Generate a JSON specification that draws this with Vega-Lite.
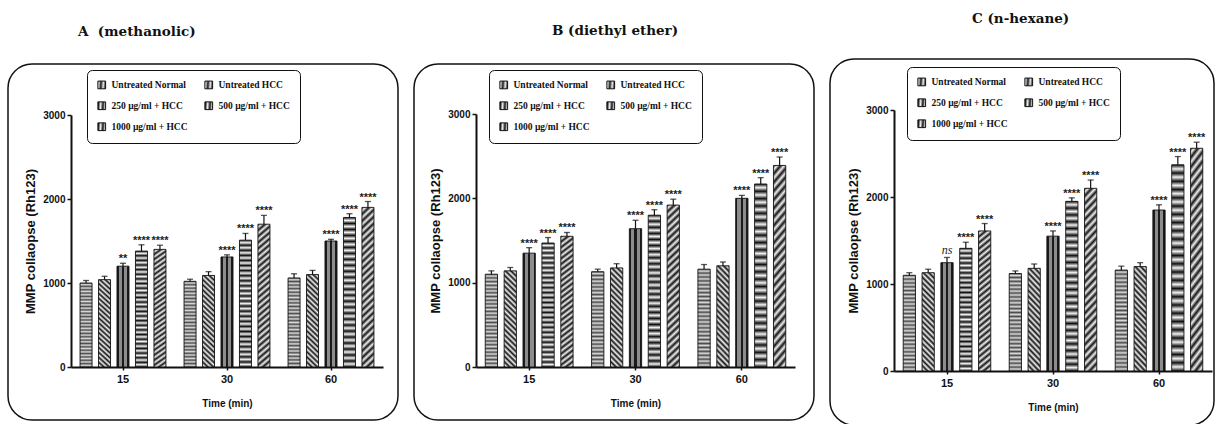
{
"$schema": "https://vega.github.io/schema/vega-lite/v6.json",
"padding": {"left": 7, "top": 10, "right": 0, "bottom": 0},
"spacing": 16,
"center": true,
"bounds": "flush",
"resolve": {"scale": {"stroke": "independent", "xOffset": "independent"}, "legend": {"stroke": "independent"}},
"params": [
{"name": "gUN", "value": {"gradient": "linear", "x1": 0, "y1": 0, "x2": 0, "y2": 1, "stops": [
{"offset":0,"color":"#4d4d4d"},{"offset":0.02,"color":"#dadada"},{"offset":0.04,"color":"#4d4d4d"},{"offset":0.06,"color":"#dadada"},{"offset":0.08,"color":"#4d4d4d"},{"offset":0.1,"color":"#dadada"},{"offset":0.12,"color":"#4d4d4d"},{"offset":0.14,"color":"#dadada"},{"offset":0.16,"color":"#4d4d4d"},{"offset":0.18,"color":"#dadada"},{"offset":0.2,"color":"#4d4d4d"},{"offset":0.22,"color":"#dadada"},{"offset":0.24,"color":"#4d4d4d"},{"offset":0.26,"color":"#dadada"},{"offset":0.28,"color":"#4d4d4d"},{"offset":0.3,"color":"#dadada"},{"offset":0.32,"color":"#4d4d4d"},{"offset":0.34,"color":"#dadada"},{"offset":0.36,"color":"#4d4d4d"},{"offset":0.38,"color":"#dadada"},{"offset":0.4,"color":"#4d4d4d"},{"offset":0.42,"color":"#dadada"},{"offset":0.44,"color":"#4d4d4d"},{"offset":0.46,"color":"#dadada"},{"offset":0.48,"color":"#4d4d4d"},{"offset":0.5,"color":"#dadada"},{"offset":0.52,"color":"#4d4d4d"},{"offset":0.54,"color":"#dadada"},{"offset":0.56,"color":"#4d4d4d"},{"offset":0.58,"color":"#dadada"},{"offset":0.6,"color":"#4d4d4d"},{"offset":0.62,"color":"#dadada"},{"offset":0.64,"color":"#4d4d4d"},{"offset":0.66,"color":"#dadada"},{"offset":0.68,"color":"#4d4d4d"},{"offset":0.7,"color":"#dadada"},{"offset":0.72,"color":"#4d4d4d"},{"offset":0.74,"color":"#dadada"},{"offset":0.76,"color":"#4d4d4d"},{"offset":0.78,"color":"#dadada"},{"offset":0.8,"color":"#4d4d4d"},{"offset":0.82,"color":"#dadada"},{"offset":0.84,"color":"#4d4d4d"},{"offset":0.86,"color":"#dadada"},{"offset":0.88,"color":"#4d4d4d"},{"offset":0.9,"color":"#dadada"},{"offset":0.92,"color":"#4d4d4d"},{"offset":0.94,"color":"#dadada"},{"offset":0.96,"color":"#4d4d4d"},{"offset":0.98,"color":"#dadada"},{"offset":1,"color":"#4d4d4d"}]}},
{"name": "gUH", "value": {"gradient": "linear", "x1": 0, "y1": 1, "x2": 0.138, "y2": -0.108, "stops": [
{"offset":0,"color":"#151515"},{"offset":0.025,"color":"#f0f0f0"},{"offset":0.05,"color":"#151515"},{"offset":0.075,"color":"#f0f0f0"},{"offset":0.1,"color":"#151515"},{"offset":0.125,"color":"#f0f0f0"},{"offset":0.15,"color":"#151515"},{"offset":0.175,"color":"#f0f0f0"},{"offset":0.2,"color":"#151515"},{"offset":0.225,"color":"#f0f0f0"},{"offset":0.25,"color":"#151515"},{"offset":0.275,"color":"#f0f0f0"},{"offset":0.3,"color":"#151515"},{"offset":0.325,"color":"#f0f0f0"},{"offset":0.35,"color":"#151515"},{"offset":0.375,"color":"#f0f0f0"},{"offset":0.4,"color":"#151515"},{"offset":0.425,"color":"#f0f0f0"},{"offset":0.45,"color":"#151515"},{"offset":0.475,"color":"#f0f0f0"},{"offset":0.5,"color":"#151515"},{"offset":0.525,"color":"#f0f0f0"},{"offset":0.55,"color":"#151515"},{"offset":0.575,"color":"#f0f0f0"},{"offset":0.6,"color":"#151515"},{"offset":0.625,"color":"#f0f0f0"},{"offset":0.65,"color":"#151515"},{"offset":0.675,"color":"#f0f0f0"},{"offset":0.7,"color":"#151515"},{"offset":0.725,"color":"#f0f0f0"},{"offset":0.75,"color":"#151515"},{"offset":0.775,"color":"#f0f0f0"},{"offset":0.8,"color":"#151515"},{"offset":0.825,"color":"#f0f0f0"},{"offset":0.85,"color":"#151515"},{"offset":0.875,"color":"#f0f0f0"},{"offset":0.9,"color":"#151515"},{"offset":0.925,"color":"#f0f0f0"},{"offset":0.95,"color":"#151515"},{"offset":0.975,"color":"#f0f0f0"},{"offset":1,"color":"#151515"}]}},
{"name": "g250", "value": {"gradient": "linear", "x1": 0, "y1": 0, "x2": 1, "y2": 0, "stops": [
{"offset":0,"color":"#1a1a1a"},{"offset":0.14,"color":"#1a1a1a"},{"offset":0.14,"color":"#8c8c8c"},{"offset":0.4,"color":"#8c8c8c"},{"offset":0.4,"color":"#1a1a1a"},{"offset":0.6,"color":"#1a1a1a"},{"offset":0.6,"color":"#8c8c8c"},{"offset":0.86,"color":"#8c8c8c"},{"offset":0.86,"color":"#1a1a1a"},{"offset":1,"color":"#1a1a1a"}]}},
{"name": "g500", "value": {"gradient": "linear", "x1": 0, "y1": 0, "x2": 0, "y2": 1, "stops": [
{"offset":0,"color":"#111111"},{"offset":0.02,"color":"#f2f2f2"},{"offset":0.04,"color":"#111111"},{"offset":0.06,"color":"#f2f2f2"},{"offset":0.08,"color":"#111111"},{"offset":0.1,"color":"#f2f2f2"},{"offset":0.12,"color":"#111111"},{"offset":0.14,"color":"#f2f2f2"},{"offset":0.16,"color":"#111111"},{"offset":0.18,"color":"#f2f2f2"},{"offset":0.2,"color":"#111111"},{"offset":0.22,"color":"#f2f2f2"},{"offset":0.24,"color":"#111111"},{"offset":0.26,"color":"#f2f2f2"},{"offset":0.28,"color":"#111111"},{"offset":0.3,"color":"#f2f2f2"},{"offset":0.32,"color":"#111111"},{"offset":0.34,"color":"#f2f2f2"},{"offset":0.36,"color":"#111111"},{"offset":0.38,"color":"#f2f2f2"},{"offset":0.4,"color":"#111111"},{"offset":0.42,"color":"#f2f2f2"},{"offset":0.44,"color":"#111111"},{"offset":0.46,"color":"#f2f2f2"},{"offset":0.48,"color":"#111111"},{"offset":0.5,"color":"#f2f2f2"},{"offset":0.52,"color":"#111111"},{"offset":0.54,"color":"#f2f2f2"},{"offset":0.56,"color":"#111111"},{"offset":0.58,"color":"#f2f2f2"},{"offset":0.6,"color":"#111111"},{"offset":0.62,"color":"#f2f2f2"},{"offset":0.64,"color":"#111111"},{"offset":0.66,"color":"#f2f2f2"},{"offset":0.68,"color":"#111111"},{"offset":0.7,"color":"#f2f2f2"},{"offset":0.72,"color":"#111111"},{"offset":0.74,"color":"#f2f2f2"},{"offset":0.76,"color":"#111111"},{"offset":0.78,"color":"#f2f2f2"},{"offset":0.8,"color":"#111111"},{"offset":0.82,"color":"#f2f2f2"},{"offset":0.84,"color":"#111111"},{"offset":0.86,"color":"#f2f2f2"},{"offset":0.88,"color":"#111111"},{"offset":0.9,"color":"#f2f2f2"},{"offset":0.92,"color":"#111111"},{"offset":0.94,"color":"#f2f2f2"},{"offset":0.96,"color":"#111111"},{"offset":0.98,"color":"#f2f2f2"},{"offset":1,"color":"#111111"}]}},
{"name": "g1000", "value": {"gradient": "linear", "x1": 0, "y1": 0, "x2": 0.076, "y2": 1.066, "stops": [
{"offset":0,"color":"#151515"},{"offset":0.02,"color":"#efefef"},{"offset":0.04,"color":"#151515"},{"offset":0.06,"color":"#efefef"},{"offset":0.08,"color":"#151515"},{"offset":0.1,"color":"#efefef"},{"offset":0.12,"color":"#151515"},{"offset":0.14,"color":"#efefef"},{"offset":0.16,"color":"#151515"},{"offset":0.18,"color":"#efefef"},{"offset":0.2,"color":"#151515"},{"offset":0.22,"color":"#efefef"},{"offset":0.24,"color":"#151515"},{"offset":0.26,"color":"#efefef"},{"offset":0.28,"color":"#151515"},{"offset":0.3,"color":"#efefef"},{"offset":0.32,"color":"#151515"},{"offset":0.34,"color":"#efefef"},{"offset":0.36,"color":"#151515"},{"offset":0.38,"color":"#efefef"},{"offset":0.4,"color":"#151515"},{"offset":0.42,"color":"#efefef"},{"offset":0.44,"color":"#151515"},{"offset":0.46,"color":"#efefef"},{"offset":0.48,"color":"#151515"},{"offset":0.5,"color":"#efefef"},{"offset":0.52,"color":"#151515"},{"offset":0.54,"color":"#efefef"},{"offset":0.56,"color":"#151515"},{"offset":0.58,"color":"#efefef"},{"offset":0.6,"color":"#151515"},{"offset":0.62,"color":"#efefef"},{"offset":0.64,"color":"#151515"},{"offset":0.66,"color":"#efefef"},{"offset":0.68,"color":"#151515"},{"offset":0.7,"color":"#efefef"},{"offset":0.72,"color":"#151515"},{"offset":0.74,"color":"#efefef"},{"offset":0.76,"color":"#151515"},{"offset":0.78,"color":"#efefef"},{"offset":0.8,"color":"#151515"},{"offset":0.82,"color":"#efefef"},{"offset":0.84,"color":"#151515"},{"offset":0.86,"color":"#efefef"},{"offset":0.88,"color":"#151515"},{"offset":0.9,"color":"#efefef"},{"offset":0.92,"color":"#151515"},{"offset":0.94,"color":"#efefef"},{"offset":0.96,"color":"#151515"},{"offset":0.98,"color":"#efefef"},{"offset":1,"color":"#151515"}]}}
],
"datasets": {
"A": [
{"time":"15","trt":"Untreated Normal","v":1000,"hi":1030,"sig":""},
{"time":"15","trt":"Untreated HCC","v":1040,"hi":1080,"sig":""},
{"time":"15","trt":"250 µg/ml + HCC","v":1200,"hi":1235,"sig":"**"},
{"time":"15","trt":"500 µg/ml + HCC","v":1380,"hi":1455,"sig":"****"},
{"time":"15","trt":"1000 µg/ml + HCC","v":1400,"hi":1450,"sig":"****"},
{"time":"30","trt":"Untreated Normal","v":1020,"hi":1045,"sig":""},
{"time":"30","trt":"Untreated HCC","v":1090,"hi":1135,"sig":""},
{"time":"30","trt":"250 µg/ml + HCC","v":1310,"hi":1335,"sig":"****"},
{"time":"30","trt":"500 µg/ml + HCC","v":1510,"hi":1590,"sig":"****"},
{"time":"30","trt":"1000 µg/ml + HCC","v":1700,"hi":1805,"sig":"****"},
{"time":"60","trt":"Untreated Normal","v":1060,"hi":1110,"sig":""},
{"time":"60","trt":"Untreated HCC","v":1100,"hi":1150,"sig":""},
{"time":"60","trt":"250 µg/ml + HCC","v":1500,"hi":1520,"sig":"****"},
{"time":"60","trt":"500 µg/ml + HCC","v":1780,"hi":1825,"sig":"****"},
{"time":"60","trt":"1000 µg/ml + HCC","v":1900,"hi":1970,"sig":"****"}
],
"B": [
{"time":"15","trt":"Untreated Normal","v":1100,"hi":1140,"sig":""},
{"time":"15","trt":"Untreated HCC","v":1140,"hi":1180,"sig":""},
{"time":"15","trt":"250 µg/ml + HCC","v":1350,"hi":1415,"sig":"****"},
{"time":"15","trt":"500 µg/ml + HCC","v":1470,"hi":1535,"sig":"****"},
{"time":"15","trt":"1000 µg/ml + HCC","v":1550,"hi":1595,"sig":"****"},
{"time":"30","trt":"Untreated Normal","v":1130,"hi":1160,"sig":""},
{"time":"30","trt":"Untreated HCC","v":1175,"hi":1225,"sig":""},
{"time":"30","trt":"250 µg/ml + HCC","v":1640,"hi":1740,"sig":"****"},
{"time":"30","trt":"500 µg/ml + HCC","v":1800,"hi":1865,"sig":"****"},
{"time":"30","trt":"1000 µg/ml + HCC","v":1920,"hi":1990,"sig":"****"},
{"time":"60","trt":"Untreated Normal","v":1160,"hi":1215,"sig":""},
{"time":"60","trt":"Untreated HCC","v":1200,"hi":1245,"sig":""},
{"time":"60","trt":"250 µg/ml + HCC","v":2000,"hi":2035,"sig":"****"},
{"time":"60","trt":"500 µg/ml + HCC","v":2170,"hi":2245,"sig":"****"},
{"time":"60","trt":"1000 µg/ml + HCC","v":2390,"hi":2490,"sig":"****"}
],
"C": [
{"time":"15","trt":"Untreated Normal","v":1100,"hi":1130,"sig":""},
{"time":"15","trt":"Untreated HCC","v":1130,"hi":1170,"sig":""},
{"time":"15","trt":"250 µg/ml + HCC","v":1245,"hi":1305,"sig":"ns"},
{"time":"15","trt":"500 µg/ml + HCC","v":1410,"hi":1480,"sig":"****"},
{"time":"15","trt":"1000 µg/ml + HCC","v":1610,"hi":1695,"sig":"****"},
{"time":"30","trt":"Untreated Normal","v":1120,"hi":1150,"sig":""},
{"time":"30","trt":"Untreated HCC","v":1180,"hi":1230,"sig":""},
{"time":"30","trt":"250 µg/ml + HCC","v":1550,"hi":1610,"sig":"****"},
{"time":"30","trt":"500 µg/ml + HCC","v":1950,"hi":1990,"sig":"****"},
{"time":"30","trt":"1000 µg/ml + HCC","v":2100,"hi":2195,"sig":"****"},
{"time":"60","trt":"Untreated Normal","v":1160,"hi":1205,"sig":""},
{"time":"60","trt":"Untreated HCC","v":1200,"hi":1245,"sig":""},
{"time":"60","trt":"250 µg/ml + HCC","v":1850,"hi":1910,"sig":"****"},
{"time":"60","trt":"500 µg/ml + HCC","v":2370,"hi":2465,"sig":"****"},
{"time":"60","trt":"1000 µg/ml + HCC","v":2560,"hi":2630,"sig":"****"}
]
},
"config": {
"view": {"stroke": "#111111", "strokeWidth": 1.5, "cornerRadius": 24},
"axis": {"grid": false, "domainColor": "#111111", "domainWidth": 2, "tickColor": "#111111", "tickWidth": 1.5, "labelColor": "#111111", "titleColor": "#111111", "labelFont": "Liberation Sans Narrow, Liberation Sans", "labelFontWeight": "bold", "titleFont": "Liberation Sans", "titleFontWeight": "bold"},
"axisX": {"labelAngle": 0, "labelFontSize": 11, "titleFontSize": 10, "titleFont": "Liberation Sans Narrow, Liberation Sans", "titlePadding": 14, "tickSize": 3, "labelPadding": 3},
"axisY": {"labelFontSize": 10, "titleFontSize": 13, "titlePadding": 5, "tickSize": 4, "labelPadding": 2},
"legend": {"orient": "none", "direction": "horizontal", "columns": 2, "labelFont": "Liberation Serif", "labelFontWeight": "bold", "labelFontSize": 9.5, "labelColor": "#111111", "symbolType": "square", "symbolSize": 60, "symbolStrokeWidth": 1, "strokeColor": "#111111", "cornerRadius": 5, "padding": 10, "rowPadding": 8, "columnPadding": 14, "labelLimit": 200, "labelOffset": 5},
"title": {"font": "DejaVu Serif", "fontWeight": "bold", "fontSize": 13.5, "anchor": "start", "color": "#111111"}
},
"hconcat": [
{
"width": 390, "height": 356,
"title": {"text": "A\u00a0 (methanolic)", "dx": 70, "offset": 26},
"data": {"name": "A"},
"encoding": {
"x": {"field": "time", "type": "nominal", "title": "Time (min)", "scale": {"range": [63, 375], "paddingInner": 0, "paddingOuter": 0}, "axis": {"offset": -53}},
"xOffset": {"field": "trt", "type": "nominal", "sort": ["Untreated Normal","Untreated HCC","250 µg/ml + HCC","500 µg/ml + HCC","1000 µg/ml + HCC"], "scale": {"paddingInner": 0.35, "paddingOuter": 0.49}}
},
"layer": [
{"mark": {"type": "bar", "strokeWidth": 0.9},
"encoding": {
"y": {"field": "v", "type": "quantitative", "title": "MMP collaopse (Rh123)", "scale": {"domain": [0, 3000], "range": [303, 51], "nice": false}, "axis": {"offset": -63, "values": [0, 1000, 2000, 3000], "format": "d"}},
"fill": {"value": {"expr": "datum.trt === 'Untreated Normal' ? gUN : datum.trt === 'Untreated HCC' ? gUH : datum.trt === '250 µg/ml + HCC' ? g250 : datum.trt === '500 µg/ml + HCC' ? g500 : g1000"}},
"stroke": {"field": "trt", "type": "nominal", "scale": {"domain": ["Untreated Normal","Untreated HCC","250 µg/ml + HCC","500 µg/ml + HCC","1000 µg/ml + HCC"], "range": ["#111111","#111111","#111111","#111111","#111111"]}, "legend": {"title": null, "legendX": 79, "legendY": 6, "encode": {"symbols": {"update": {"fill": {"value": "#262626"}}}}}}
}},
{"mark": {"type": "rule", "color": "#111111", "strokeWidth": 1.2},
"encoding": {"y": {"field": "v", "type": "quantitative", "title": "MMP collaopse (Rh123)"}, "y2": {"field": "hi"}}},
{"mark": {"type": "tick", "color": "#111111", "thickness": 1.3, "size": 6},
"encoding": {"y": {"field": "hi", "type": "quantitative", "title": "MMP collaopse (Rh123)"}}},
{"mark": {"type": "text", "font": "Liberation Sans", "fontWeight": "bold", "fontSize": 11, "baseline": "alphabetic", "dy": -1, "color": "#222222"},
"encoding": {"y": {"field": "hi", "type": "quantitative", "title": "MMP collaopse (Rh123)"}, "text": {"field": "sig"}}}
]
},
{
"width": 400, "height": 356,
"title": {"text": "B (diethyl ether)", "dx": 138, "offset": 27},
"data": {"name": "B"},
"encoding": {
"x": {"field": "time", "type": "nominal", "title": "Time (min)", "scale": {"range": [62, 381], "paddingInner": 0, "paddingOuter": 0}, "axis": {"offset": -53}},
"xOffset": {"field": "trt", "type": "nominal", "sort": ["Untreated Normal","Untreated HCC","250 µg/ml + HCC","500 µg/ml + HCC","1000 µg/ml + HCC"], "scale": {"paddingInner": 0.35, "paddingOuter": 0.49}}
},
"layer": [
{"mark": {"type": "bar", "strokeWidth": 0.9},
"encoding": {
"y": {"field": "v", "type": "quantitative", "title": "MMP collaopse (Rh123)", "scale": {"domain": [0, 3000], "range": [303, 50], "nice": false}, "axis": {"offset": -62, "values": [0, 1000, 2000, 3000], "format": "d"}},
"fill": {"value": {"expr": "datum.trt === 'Untreated Normal' ? gUN : datum.trt === 'Untreated HCC' ? gUH : datum.trt === '250 µg/ml + HCC' ? g250 : datum.trt === '500 µg/ml + HCC' ? g500 : g1000"}},
"stroke": {"field": "trt", "type": "nominal", "scale": {"domain": ["Untreated Normal","Untreated HCC","250 µg/ml + HCC","500 µg/ml + HCC","1000 µg/ml + HCC"], "range": ["#111111","#111111","#111111","#111111","#111111"]}, "legend": {"title": null, "legendX": 75, "legendY": 6, "encode": {"symbols": {"update": {"fill": {"value": "#262626"}}}}}}
}},
{"mark": {"type": "rule", "color": "#111111", "strokeWidth": 1.2},
"encoding": {"y": {"field": "v", "type": "quantitative", "title": "MMP collaopse (Rh123)"}, "y2": {"field": "hi"}}},
{"mark": {"type": "tick", "color": "#111111", "thickness": 1.3, "size": 6},
"encoding": {"y": {"field": "hi", "type": "quantitative", "title": "MMP collaopse (Rh123)"}}},
{"mark": {"type": "text", "font": "Liberation Sans", "fontWeight": "bold", "fontSize": 11, "baseline": "alphabetic", "dy": -1, "color": "#222222"},
"encoding": {"y": {"field": "hi", "type": "quantitative", "title": "MMP collaopse (Rh123)"}, "text": {"field": "sig"}}}
]
},
{
"width": 384, "height": 366,
"title": {"text": "C (n-hexane)", "dx": 142, "offset": 34},
"data": {"name": "C"},
"encoding": {
"x": {"field": "time", "type": "nominal", "title": "Time (min)", "scale": {"range": [64, 382], "paddingInner": 0, "paddingOuter": 0}, "axis": {"offset": -54}},
"xOffset": {"field": "trt", "type": "nominal", "sort": ["Untreated Normal","Untreated HCC","250 µg/ml + HCC","500 µg/ml + HCC","1000 µg/ml + HCC"], "scale": {"paddingInner": 0.35, "paddingOuter": 0.49}}
},
"layer": [
{"mark": {"type": "bar", "strokeWidth": 0.9},
"encoding": {
"y": {"field": "v", "type": "quantitative", "title": "MMP collaopse (Rh123)", "scale": {"domain": [0, 3000], "range": [312, 51], "nice": false}, "axis": {"offset": -64, "values": [0, 1000, 2000, 3000], "format": "d"}},
"fill": {"value": {"expr": "datum.trt === 'Untreated Normal' ? gUN : datum.trt === 'Untreated HCC' ? gUH : datum.trt === '250 µg/ml + HCC' ? g250 : datum.trt === '500 µg/ml + HCC' ? g500 : g1000"}},
"stroke": {"field": "trt", "type": "nominal", "scale": {"domain": ["Untreated Normal","Untreated HCC","250 µg/ml + HCC","500 µg/ml + HCC","1000 µg/ml + HCC"], "range": ["#111111","#111111","#111111","#111111","#111111"]}, "legend": {"title": null, "legendX": 77, "legendY": 8, "encode": {"symbols": {"update": {"fill": {"value": "#262626"}}}}}}
}},
{"mark": {"type": "rule", "color": "#111111", "strokeWidth": 1.2},
"encoding": {"y": {"field": "v", "type": "quantitative", "title": "MMP collaopse (Rh123)"}, "y2": {"field": "hi"}}},
{"mark": {"type": "tick", "color": "#111111", "thickness": 1.3, "size": 6},
"encoding": {"y": {"field": "hi", "type": "quantitative", "title": "MMP collaopse (Rh123)"}}},
{"transform": [{"filter": "datum.sig != 'ns'"}],
"mark": {"type": "text", "font": "Liberation Sans", "fontWeight": "bold", "fontSize": 11, "baseline": "alphabetic", "dy": -1, "color": "#222222"},
"encoding": {"y": {"field": "hi", "type": "quantitative", "title": "MMP collaopse (Rh123)"}, "text": {"field": "sig"}}},
{"transform": [{"filter": "datum.sig == 'ns'"}],
"mark": {"type": "text", "font": "Liberation Serif", "fontStyle": "italic", "fontSize": 12, "baseline": "alphabetic", "dy": -3, "color": "#222222"},
"encoding": {"y": {"field": "hi", "type": "quantitative", "title": "MMP collaopse (Rh123)"}, "text": {"field": "sig"}}}
]
}
]
}
